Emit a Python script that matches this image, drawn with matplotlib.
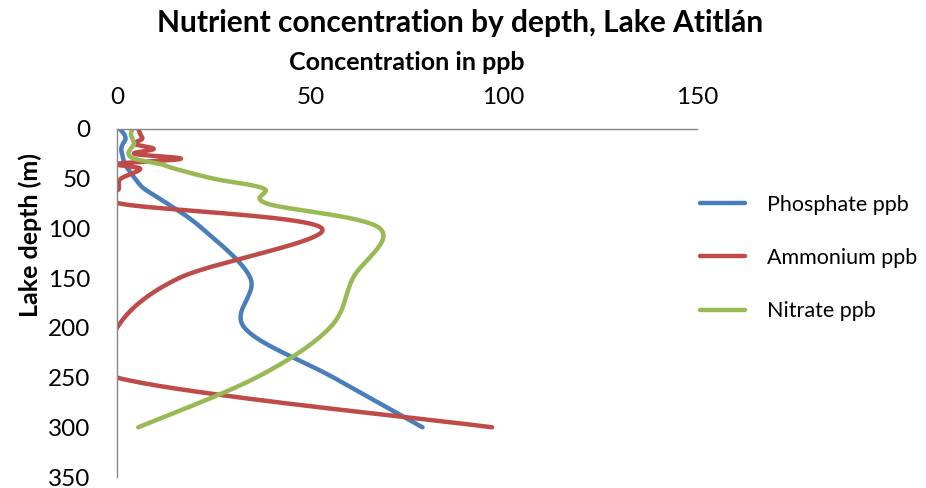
import numpy as np
import matplotlib.pyplot as plt

plt.rcParams['font.family'] = ['Lato', 'DejaVu Sans']

# depth in metres, concentrations in ppb
depth = [0, 5, 10, 15, 20, 25, 30, 35, 40, 50, 60, 75, 100, 150, 200, 250, 300]
phosphate = [0.7, 1.8, 2.2, 1.5, 1.1, 1.3, 1.6, 2.0, 2.8, 4.7, 7, 13, 22, 34.5, 33, 56, 79]
ammonium = [5.5, 6, 6.5, 4.5, 9.5, 4.5, 16.5, 0, 6, 1, 0.5, 0.8, 53, 16, 0, 0, 97]
nitrate = [4, 3.6, 4, 4.4, 3.5, 3, 4.5, 11, 15, 25, 38, 38.8, 68, 61, 55, 36, 5.5]

series_names = ["Phosphate ppb", "Ammonium ppb", "Nitrate ppb"]
colors = ["#4A7EBB", "#BE4B48", "#98B954"]
x_ticks = [0, 50, 100, 150]
y_ticks = [0, 50, 100, 150, 200, 250, 300, 350]


def smooth(x, y, n=40):
    # bezier smoothing like excel's "smoothed line" option
    p = np.column_stack([x, y]).astype(float)
    out = []
    t = np.linspace(0, 1, n)[:, None]
    for i in range(len(p) - 1):
        p0 = p[i - 1] if i > 0 else p[i]
        p1 = p[i]
        p2 = p[i + 1]
        p3 = p[i + 2] if i + 2 < len(p) else p[i + 1]
        c1 = p1 + (p2 - p0) / 6
        c2 = p2 - (p3 - p1) / 6
        seg = (1 - t) ** 3 * p1 + 3 * (1 - t) ** 2 * t * c1 + 3 * (1 - t) * t ** 2 * c2 + t ** 3 * p2
        out.append(seg if i == 0 else seg[1:])
    return np.vstack(out)


fig = plt.figure(figsize=(9.26, 4.88), dpi=100)
ax = fig.add_axes([117 / 926, 11 / 488, 580 / 926, 348 / 488])

lines = []
for vals, name, c in zip([phosphate, ammonium, nitrate], series_names, colors):
    xy = smooth(vals, depth)
    ln, = ax.plot(xy[:, 0], xy[:, 1], color=c, lw=3.2, label=name, solid_capstyle='round')
    lines.append(ln)

ax.set_xlim(0, 150)
ax.set_ylim(350, 0)
ax.set_xticks(x_ticks)
ax.set_yticks(y_ticks)
ax.xaxis.tick_top()
ax.xaxis.set_label_position('top')
ax.tick_params(axis='x', length=0, pad=15, labelsize=17.5)
ax.tick_params(axis='y', length=0, pad=19, labelsize=17.5)
for s in ['right', 'bottom']:
    ax.spines[s].set_visible(False)
for s in ['left', 'top']:
    ax.spines[s].set_color('#868686')
    ax.spines[s].set_linewidth(1)

ax.set_xlabel("Concentration in ppb", fontsize=18, fontweight='bold', labelpad=12)
fig.text(30 / 926, 1 - 235 / 488, "Lake depth (m)", rotation=90, fontsize=18,
         fontweight='bold', ha='center', va='center')
fig.text(460 / 926, 1 - 23 / 488, "Nutrient concentration by depth, Lake Atitlán",
         fontsize=21.5, fontweight='bold', ha='center', va='center')

fig.legend(handles=lines, loc='center left', bbox_to_anchor=(700 / 926, 1 - 258 / 488),
           frameon=False, fontsize=15.5, handlelength=2.1, handletextpad=1.0,
           labelspacing=1.55, borderpad=0, borderaxespad=0)

fig.savefig("out.png", dpi=100)
